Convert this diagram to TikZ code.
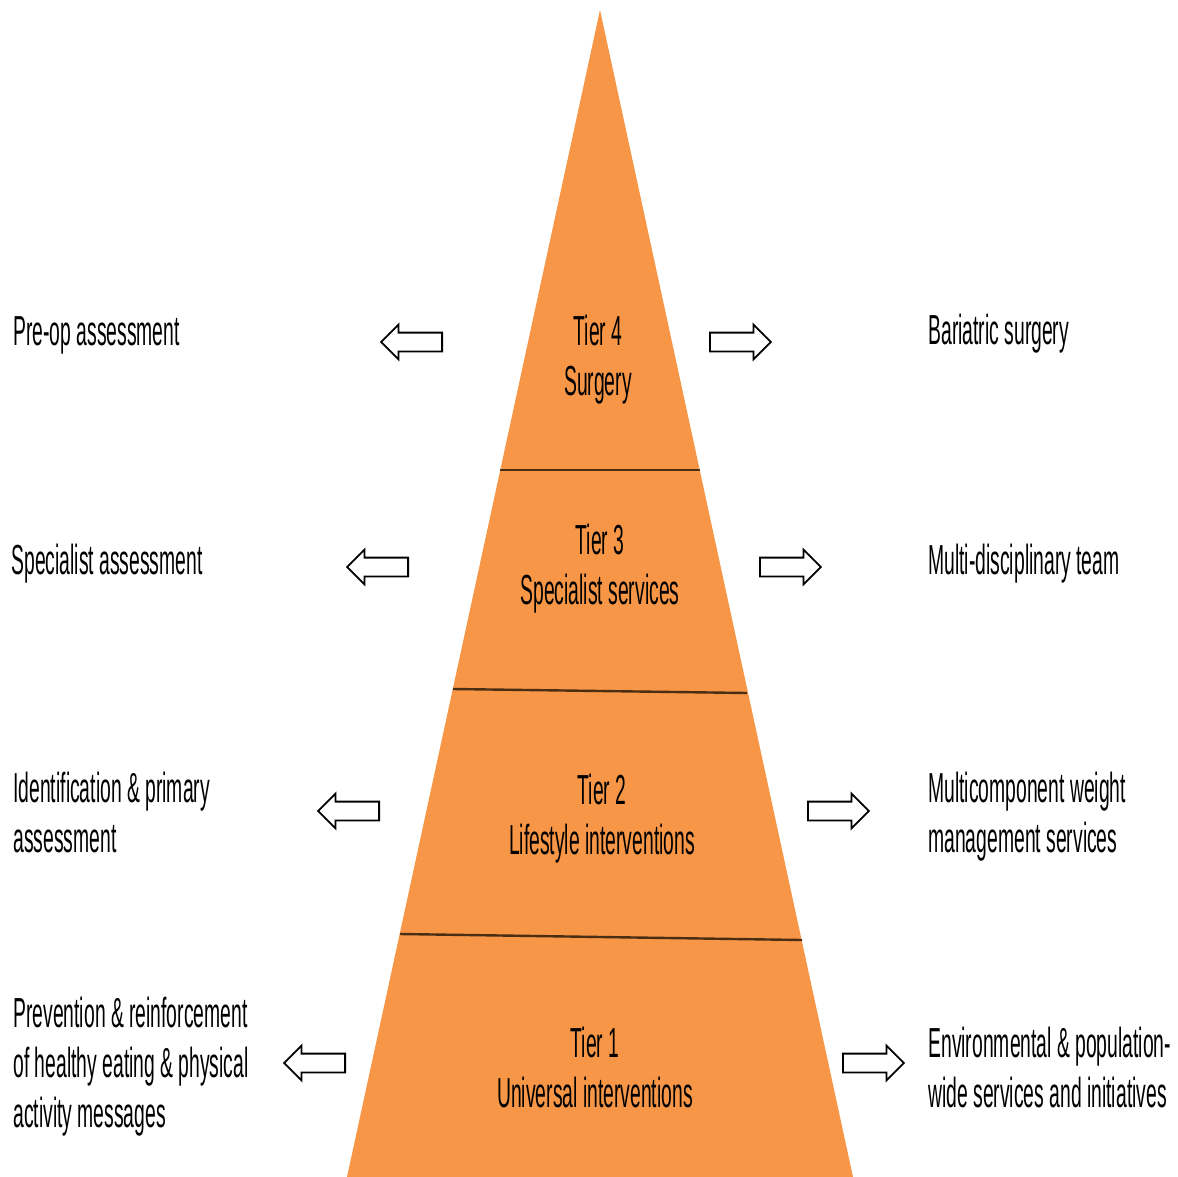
\documentclass[tikz,border=0pt]{standalone}
\usepackage{fontspec}
\setmainfont{Liberation Sans}[FakeStretch=0.46]
\usetikzlibrary{shapes.arrows}
\definecolor{tierorange}{HTML}{F79646}
\definecolor{tierline}{HTML}{4A2E14}

\begin{document}
\begin{tikzpicture}[x=0.5pt, y=-0.5pt,
  every node/.style={font=\fontsize{21}{25}\selectfont, inner sep=0pt},
  blockarrow/.style={single arrow, draw=black, line width=0.9pt, fill=white,
    minimum height=30.5pt, single arrow head extend=4pt, inner sep=4.25pt, anchor=tail}]
  \useasboundingbox (0,0) rectangle (1178,1177);

  % Piramide
  \fill[tierorange] (600,10) -- (853,1177) -- (347,1177) -- cycle;
  \draw[tierline, line width=1.2pt] (500,470) -- (700,470);
  \draw[tierline, line width=1.2pt] (453,689) -- (747,693);
  \draw[tierline, line width=1.2pt] (400,934) -- (802,940);

  % Livelli
  \node[align=center] (tier4) at (598,360) {Tier 4\\Surgery};
  \node[align=center] (tier3) at (600,569) {Tier 3\\Specialist services};
  \node[align=center] (tier2) at (602,819) {Tier 2\\Lifestyle interventions};
  \node[align=center] (tier1) at (595,1067) {Tier 1\\Universal interventions};

  % Frecce (coda a x)
  \foreach \n/\xl/\xr/\y in {4/443/709/342, 3/409/759/567, 2/380/807/811, 1/346/842/1063} {
    \node[blockarrow, shape border rotate=180] (arrl\n) at (\xl,\y) {};
    \node[blockarrow] (arrr\n) at (\xr,\y) {};
  }

  % Testi a sinistra
  \node[anchor=base west] (preop) at (13,345) {Pre-op assessment};
  \node[anchor=base west] (specass) at (11,574) {Specialist assessment};
  \node[anchor=base west, align=left] (ident) at (13,852) {Identification \& primary\\assessment};
  \node[anchor=base west, align=left] (prev) at (13,1127) {Prevention \& reinforcement\\of healthy eating \& physical\\activity messages};

  % Testi a destra
  \node[anchor=base west] (bariatric) at (928,344) {Bariatric surgery};
  \node[anchor=base west] (mdt) at (928,574) {Multi-disciplinary team};
  \node[anchor=base west, align=left] (multicomp) at (928,852) {Multicomponent weight\\management services};
  \node[anchor=base west, align=left] (env) at (928,1107) {Environmental \& population-\\wide services and initiatives};
\end{tikzpicture}
\end{document}
